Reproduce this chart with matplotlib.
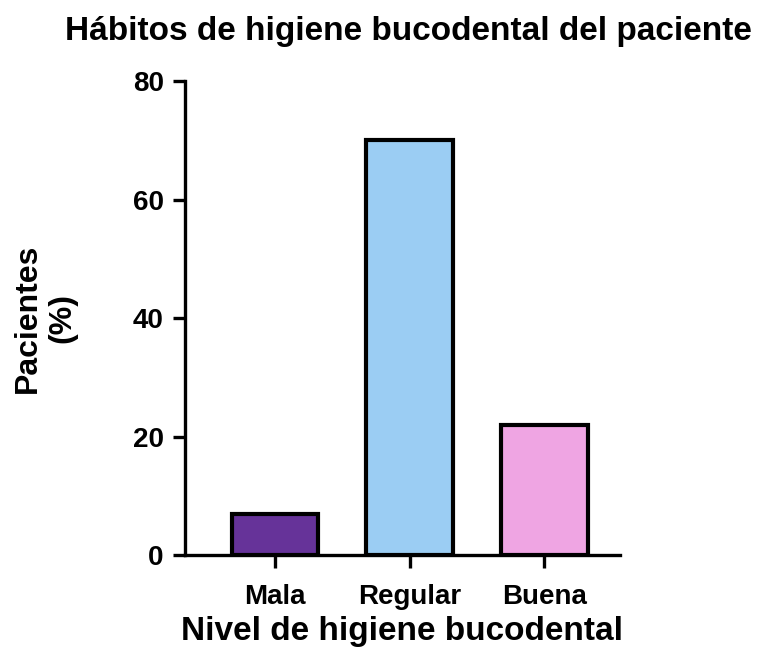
import matplotlib.pyplot as plt

plt.rcParams['font.family'] = ['Liberation Sans', 'DejaVu Sans']
plt.rcParams['font.weight'] = 'bold'

categories = ["Mala", "Regular", "Buena"]
values = [7, 70, 22]
colors = ["#663399", "#9BCDF3", "#EFA5E3"]

fig = plt.figure(figsize=(7.57, 6.54), dpi=100)
ax = fig.add_axes([0.244, 0.151, 0.575, 0.725])

x = range(len(categories))
ax.bar(x, values, width=0.64, color=colors, edgecolor="black", linewidth=3.0, zorder=3)

ax.set_xlim(-0.667, 2.56)
ax.set_ylim(0, 80)
ax.set_yticks([0, 20, 40, 60, 80])
ax.set_xticks(list(x))
ax.set_xticklabels(categories)

for s in ["top", "right"]:
    ax.spines[s].set_visible(False)
for s in ["left", "bottom"]:
    ax.spines[s].set_linewidth(2.4)

ax.tick_params(axis="y", width=2.4, length=9, labelsize=20, pad=6)
ax.tick_params(axis="x", width=2.4, length=9, labelsize=20, pad=12)
for lbl in ax.get_xticklabels() + ax.get_yticklabels():
    lbl.set_fontweight("bold")

ax.set_xlabel("Nivel de higiene bucodental", fontsize=24, fontweight="bold", labelpad=4)
ax.set_ylabel("Pacientes\n(%)", fontsize=23, fontweight="bold", labelpad=40, linespacing=1.2)
fig.suptitle("Hábitos de higiene bucodental del paciente", fontsize=24, fontweight="bold",
             x=0.540, y=0.975)

fig.savefig("out.png", dpi=100)
